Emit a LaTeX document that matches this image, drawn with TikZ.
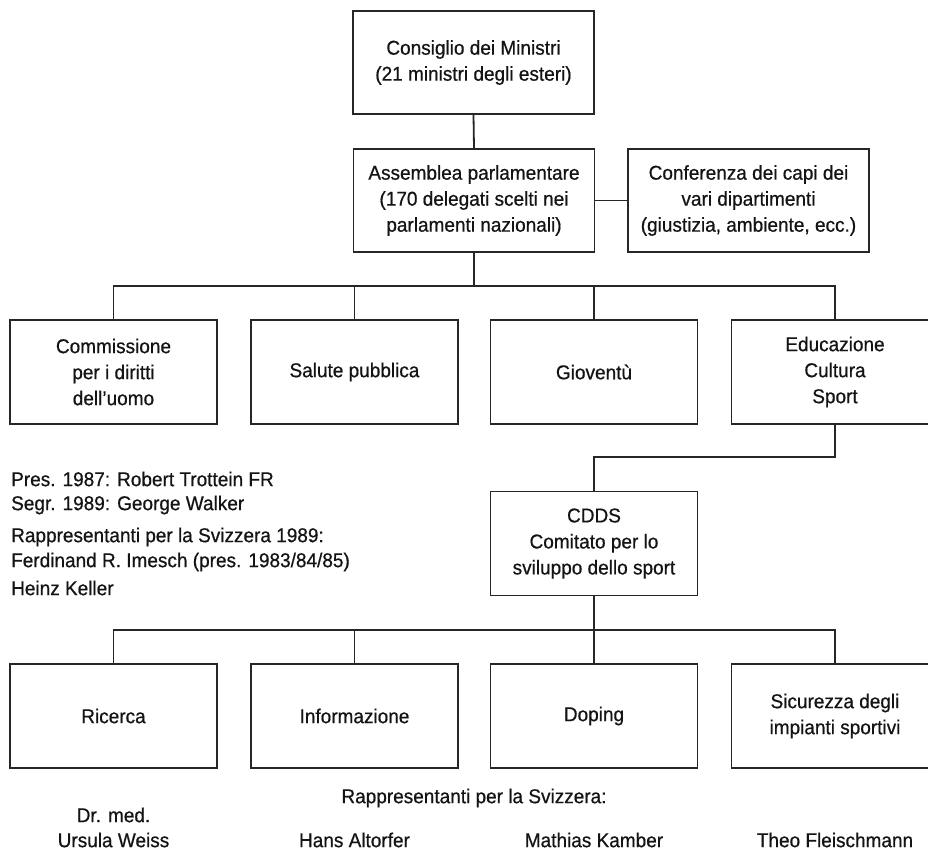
\documentclass[tikz,border=0pt]{standalone}
\usepackage{fontspec}
\setmainfont[FakeStretch=0.95,FakeBold=0.6]{Liberation Sans}
\begin{document}
\begin{tikzpicture}[x=1pt,y=-1pt,
  every node/.style={font=\fontsize{20}{26}\selectfont, text=black!92},
  bigbox/.style={draw=black!85, line width=1.8pt, minimum width=241pt, minimum height=103pt, align=center, inner sep=0pt},
  unitbox/.style={draw=black!85, line width=1.8pt, minimum width=207pt, minimum height=104pt, align=center, inner sep=0pt},
  conn/.style={draw=black!85, line width=1.8pt},
  plain/.style={align=left, inner sep=0pt, anchor=west},
  cplain/.style={align=center, inner sep=0pt}]
\useasboundingbox (0,0) rectangle (928,850);
\clip (0,0) rectangle (928,850);
\fill[white] (0,0) rectangle (928,850);

\node[bigbox] (cons) at (473.5,62.5) {Consiglio dei Ministri\\(21 ministri degli esteri)};
\node[bigbox] (ass) at (474,200.5) {Assemblea parlamentare\\(170 delegati scelti nei\\parlamenti nazionali)};
\node[bigbox] (conf) at (748.5,200.5) {Conferenza dei capi dei\\vari dipartimenti\\(giustizia, ambiente, ecc.)};

\node[unitbox] (b1) at (113.5,372) {Commissione\\per i diritti\\dell'uomo};
\node[unitbox] (b2) at (354.5,372) {Salute pubblica};
\node[unitbox] (b3) at (594,372) {Gioventù};
\node[unitbox] (b4) at (835,372) {Educazione\\Cultura\\Sport};

\node[unitbox] (cdds) at (594,543.5) {CDDS\\Comitato per lo\\sviluppo dello sport};

\node[unitbox] (c1) at (113.5,716) {Ricerca};
\node[unitbox] (c2) at (354.5,716) {Informazione};
\node[unitbox] (c3) at (594,716) {Doping};
\node[unitbox] (c4) at (835,716) {Sicurezza degli\\impianti sportivi};

\coordinate (bus1) at (474,286);
\coordinate (mid) at (0,457);
\coordinate (bus2) at (594,630);

\draw[conn] (cons.south) -- (ass.north);
\draw[conn] (ass.east) -- (conf.west);
\draw[conn] (ass.south) -- (bus1);
\draw[conn] (b1.north) -- (b1.north |- bus1) -- (b4.north |- bus1) -- (b4.north);
\draw[conn] (b2.north) -- (b2.north |- bus1);
\draw[conn] (b3.north) -- (b3.north |- bus1);
\draw[conn] (b4.south) -- (b4.south |- mid) -| (cdds.north);
\draw[conn] (cdds.south) -- (bus2);
\draw[conn] (c1.north) -- (c1.north |- bus2) -- (c4.north |- bus2) -- (c4.north);
\draw[conn] (c2.north) -- (c2.north |- bus2);
\draw[conn] (c3.north) -- (c3.north |- bus2);

\node[plain] (t1) at (11,479) {Pres. 1987: Robert Trottein FR};
\node[plain] (t2) at (11,505) {Segr. 1989: George Walker};
\node[plain] (t3) at (11,537) {Rappresentanti per la Svizzera 1989:};
\node[plain] (t4) at (11,562) {Ferdinand R. Imesch (pres. 1983/84/85)};
\node[plain] (t5) at (11,588) {Heinz Keller};

\node[cplain] (r0) at (474,798) {Rappresentanti per la Svizzera:};
\node[cplain] (r1a) at (113.5,815) {Dr. med.};
\node[cplain] (r1) at (113.5,840) {Ursula Weiss};
\node[cplain] (r2) at (354.5,840) {Hans Altorfer};
\node[cplain] (r3) at (594,840) {Mathias Kamber};
\node[cplain] (r4) at (835,840) {Theo Fleischmann};
\end{tikzpicture}
\end{document}
